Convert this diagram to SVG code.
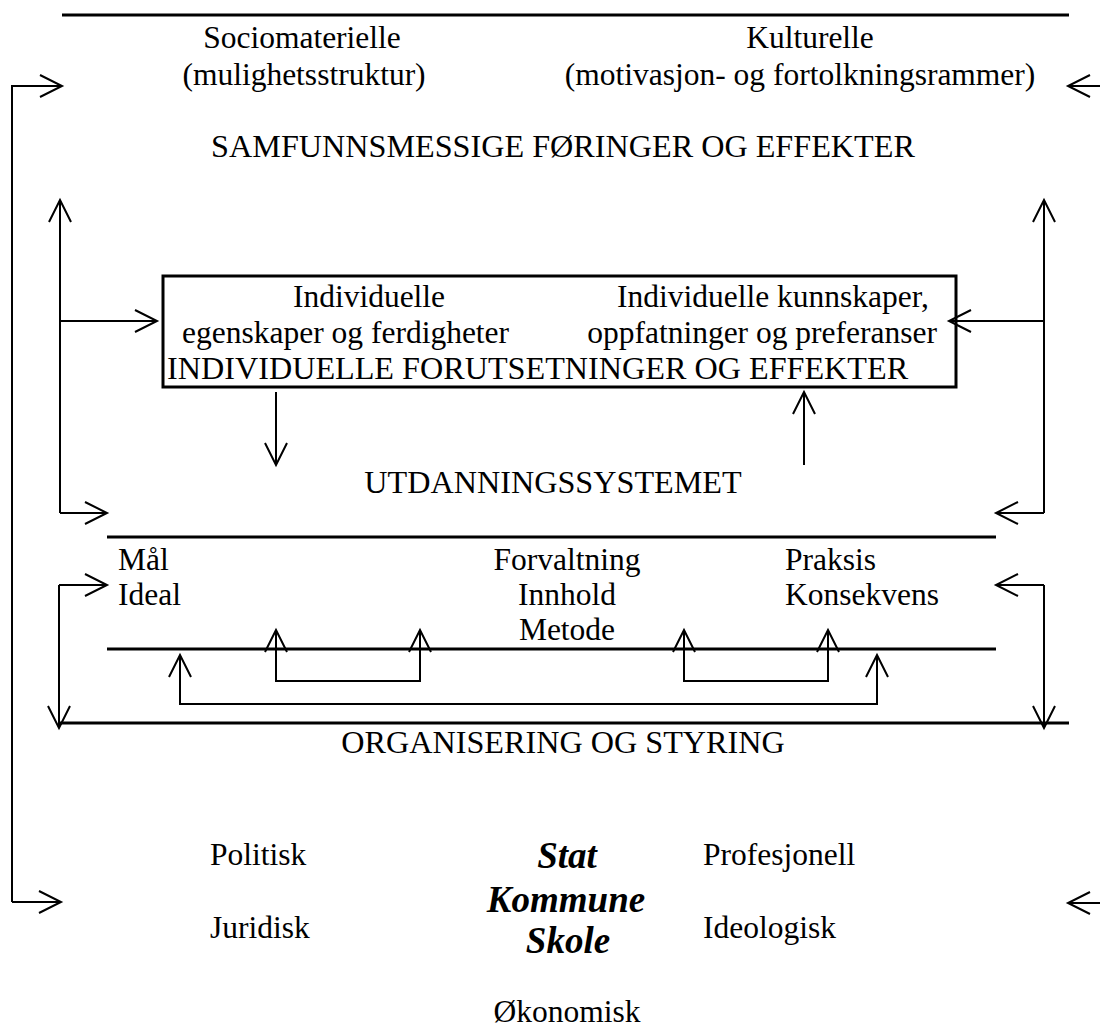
<svg xmlns="http://www.w3.org/2000/svg" width="1107" height="1031" viewBox="0 0 1107 1031">
<style>
text{font-family:"Liberation Serif","Times New Roman",serif;font-size:31.5px;fill:#000}
.c{text-anchor:middle}
.e{text-anchor:end}
.cap{font-size:32.2px}
.bi{font-weight:bold;font-style:italic;font-size:37px}
.thick{stroke:#000;stroke-width:3;fill:none}
.con{stroke:#000;stroke-width:2;fill:none}
.arr{marker-end:url(#ah)}
.arr2{marker-start:url(#ah);marker-end:url(#ah)}
</style>
<defs>
<marker id="ah" markerUnits="userSpaceOnUse" markerWidth="40" markerHeight="40" viewBox="-30 -20 40 40" refX="0" refY="0" orient="auto-start-reverse">
<path d="M-22,-11 L0,0 L-22,11" fill="none" stroke="#000" stroke-width="2"/>
</marker>
</defs>
<rect width="1107" height="1031" fill="#fff"/>

<g id="samfunn">
<line class="thick" x1="62" y1="15" x2="1069" y2="15"/>
<text class="c" x="302" y="48">Sociomaterielle</text>
<text class="c" x="304" y="85">(mulighetsstruktur)</text>
<text class="c" x="810" y="48">Kulturelle</text>
<text class="c" x="800" y="85">(motivasjon- og fortolkningsrammer)</text>
<text class="c cap" x="563" y="157">SAMFUNNSMESSIGE FØRINGER OG EFFEKTER</text>
</g>

<g id="individ">
<rect x="163" y="276" width="793" height="111" class="thick"/>
<text class="c" x="369" y="307">Individuelle</text>
<text x="182" y="343">egenskaper og ferdigheter</text>
<text x="617" y="307">Individuelle kunnskaper,</text>
<text class="e" x="937" y="343">oppfatninger og preferanser</text>
<text class="cap" x="167" y="379">INDIVIDUELLE FORUTSETNINGER OG EFFEKTER</text>
</g>

<g id="utdanning">
<text class="c cap" x="553" y="493">UTDANNINGSSYSTEMET</text>
<line class="thick" x1="107" y1="537" x2="996" y2="537"/>
<line class="thick" x1="107" y1="649" x2="996" y2="649"/>
<text x="118" y="570">Mål</text>
<text x="118" y="605">Ideal</text>
<text class="c" x="567" y="570">Forvaltning</text>
<text class="c" x="567" y="605">Innhold</text>
<text class="c" x="567" y="640">Metode</text>
<text x="785" y="570">Praksis</text>
<text x="785" y="605">Konsekvens</text>
</g>

<g id="organisering">
<line class="thick" x1="59" y1="723" x2="1069" y2="723"/>
<text class="c cap" x="563" y="753">ORGANISERING OG STYRING</text>
<text x="210" y="865">Politisk</text>
<text x="210" y="938">Juridisk</text>
<text class="c bi" x="567" y="868">Stat</text>
<text class="c bi" x="566" y="912">Kommune</text>
<text class="c bi" x="568" y="953">Skole</text>
<text x="703" y="865">Profesjonell</text>
<text x="703" y="938">Ideologisk</text>
<text class="c" x="567" y="1022">Økonomisk</text>
</g>

<g id="connectors">
<path class="con arr" d="M12,902 V86 H62"/>
<path class="con arr" d="M12,902 H61"/>
<path class="con arr" d="M1100,86 H1068"/>
<path class="con arr" d="M1100,903 H1068"/>
<path class="con arr" d="M60,513 V200"/>
<path class="con arr" d="M60,321 H157"/>
<path class="con arr" d="M60,513 H107"/>
<path class="con arr" d="M1044,513 V200"/>
<path class="con arr" d="M1044,321 H949"/>
<path class="con arr" d="M1044,513 H996"/>
<path class="con arr" d="M276,392 V465"/>
<path class="con arr" d="M804,465 V392"/>
<path class="con arr" d="M59,585 H107"/>
<path class="con arr" d="M59,585 V728"/>
<path class="con arr" d="M1044,585 H996"/>
<path class="con arr" d="M1044,585 V728"/>
<path class="con arr2" d="M276,630 V681 H420 V630"/>
<path class="con arr2" d="M684,630 V681 H828 V630"/>
<path class="con arr2" d="M180,655 V704 H877 V655"/>
</g>
</svg>
